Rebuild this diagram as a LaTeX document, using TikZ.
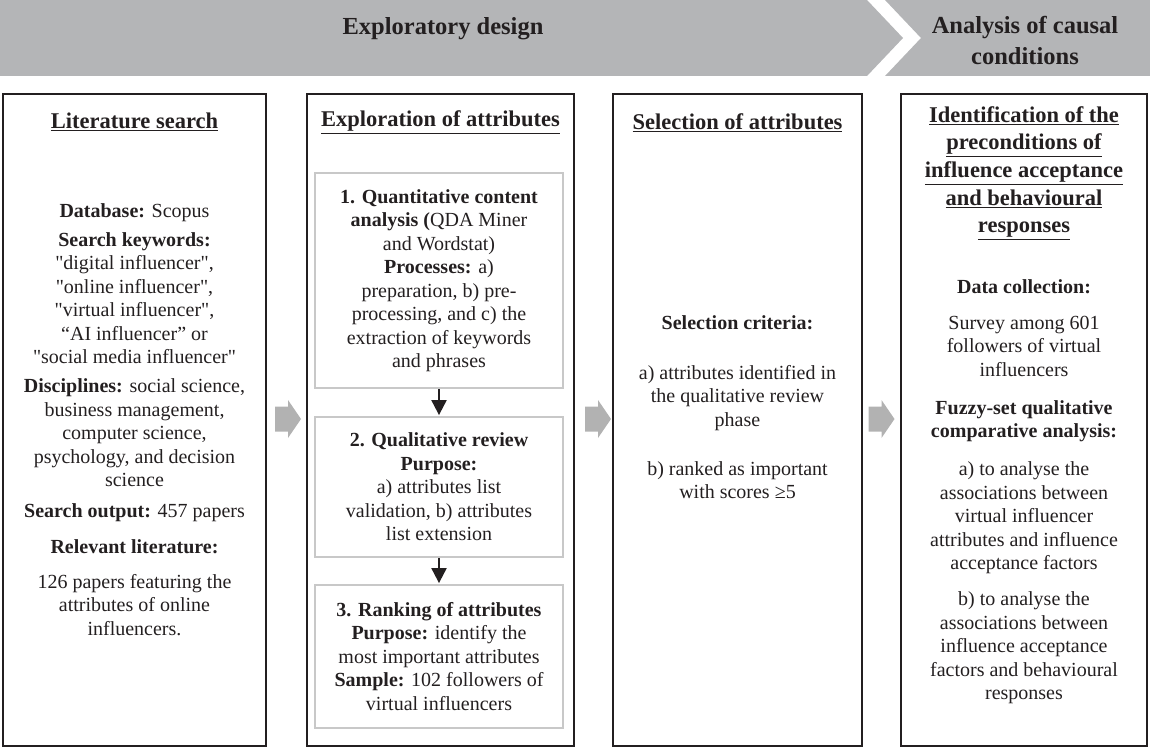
\documentclass[tikz,border=0pt]{standalone}
\usepackage{fontspec}
\setmainfont{Liberation Serif}[Ligatures=TeXOff]
\usetikzlibrary{arrows.meta,calc}
\definecolor{bannergray}{RGB}{180,181,183}
\definecolor{ink}{RGB}{35,31,32}
\definecolor{subgray}{RGB}{200,200,200}
\definecolor{arrowgray}{RGB}{178,178,178}
\begin{document}
\begin{tikzpicture}[x=1pt,y=-1pt,
  bigbox/.style={draw=ink, line width=1.6pt, rectangle, inner sep=0},
  subbox/.style={draw=subgray, line width=1.8pt, rectangle, inner sep=0, align=center, text=ink, font=\fontsize{20}{23.5}\selectfont},
  body/.style={align=center, text=ink, font=\fontsize{20}{23.5}\selectfont, inner sep=0},
  ttl/.style={align=center, text=ink, font=\fontsize{22.5}{27.7}\selectfont\bfseries, inner sep=0},
  bnr/.style={align=center, text=ink, font=\fontsize{24.5}{31}\selectfont\bfseries, inner sep=0},
  flow/.style={fill=arrowgray, draw=none},
  down/.style={-{Triangle[length=15pt,width=15pt]}, line width=2pt, draw=ink, shorten >=1pt}
]
\useasboundingbox (0,0) rectangle (1150,749);
% banner
\fill[bannergray] (0,0) -- (867,0) -- (903,38) -- (867,76) -- (0,76) -- cycle;
\fill[bannergray] (885,0) -- (1150,0) -- (1150,76) -- (885,76) -- (921,38) -- cycle;
\node[bnr] (h1) at (443,29) {Exploratory design};
\node[bnr] (h2) at (1025,40) {Analysis of causal\\conditions};

% big boxes
\node[bigbox, minimum width=263pt, minimum height=652pt] (b1) at (134.5,420) {};
\node[bigbox, minimum width=267pt, minimum height=652pt] (b2) at (440.5,420) {};
\node[bigbox, minimum width=249pt, minimum height=652pt] (b3) at (737.5,420) {};
\node[bigbox, minimum width=246pt, minimum height=652pt] (b4) at (1024,420) {};

% box 1
\node[ttl] (t1) at (134.5,122) {\underline{Literature search}};
\node[body] (db) at (134.5,213) {\textbf{Database:} Scopus};
\node[body] (kw) at (134.5,298) {\textbf{Search keywords:}\\"digital influencer",\\"online influencer",\\"virtual influencer",\\“AI influencer” or\\"social media influencer"};
\node[body] (dis) at (134.5,433) {\textbf{Disciplines:} social science,\\business management,\\computer science,\\psychology, and decision\\science};
\node[body] (so) at (134.5,513) {\textbf{Search output:} 457 papers};
\node[body] (rl) at (134.5,547) {\textbf{Relevant literature:}};
\node[body] (pp) at (134.5,605) {126 papers featuring the\\attributes of online\\influencers.};

% box 2
\node[ttl] (t2) at (440.5,122) {\underline{Exploration of attributes}};
\node[subbox, minimum width=248pt, minimum height=215pt] (s1) at (439,280.5) {\textbf{1. Quantitative content}\\\textbf{analysis (}QDA Miner\\and Wordstat)\\\textbf{Processes:} a)\\preparation, b) pre-\\processing, and c) the\\extraction of keywords\\and phrases};
\node[subbox, minimum width=248pt, minimum height=140pt] (s2) at (439,487) {\textbf{2. Qualitative review}\\\textbf{Purpose:}\\a) attributes list\\validation, b) attributes\\list extension};
\node[subbox, minimum width=248pt, minimum height=143pt] (s3) at (439,656.5) {\textbf{3. Ranking of attributes}\\\textbf{Purpose:} identify the\\most important attributes\\\textbf{Sample:} 102 followers of\\virtual influencers};
\draw[down] (s1.south) -- (s2.north);
\draw[down] (s2.south) -- (s3.north);

% box 3
\node[ttl] (t3) at (737.5,123) {\underline{Selection of attributes}};
\node[body] (sc) at (737.5,323) {\textbf{Selection criteria:}};
\node[body] (ca) at (737.5,398) {a) attributes identified in\\the qualitative review\\phase};
\node[body] (cb) at (737.5,480) {b) ranked as important\\with scores ≥5};

% box 4
\node[ttl] (t4) at (1024,173) {\underline{Identification of the}\\\underline{preconditions of}\\\underline{influence acceptance}\\\underline{and behavioural}\\\underline{responses}};
\node[body] (dc) at (1024,287) {\textbf{Data collection:}};
\node[body] (sv) at (1024,346) {Survey among 601\\followers of virtual\\influencers};
\node[body] (fz) at (1024,421) {\textbf{Fuzzy-set qualitative}\\\textbf{comparative analysis:}};
\node[body] (fa) at (1024,518) {a) to analyse the\\associations between\\virtual influencer\\attributes and influence\\acceptance factors};
\node[body] (fb) at (1024,648) {b) to analyse the\\associations between\\influence acceptance\\factors and behavioural\\responses};

% flow arrows between boxes
\coordinate (f1) at ($(b1.east)!0.5!(b2.west)+(1.5,-1)$);
\coordinate (f2) at ($(b2.east)!0.5!(b3.west)+(4.5,-1)$);
\coordinate (f3) at ($(b3.east)!0.5!(b4.west)+(0,-1)$);
\foreach \c in {f1,f2,f3}
  \fill[flow, shift={(\c)}] (-13,-12.5) -- (0,-12.5) -- (0,-19) -- (13,0) -- (0,19) -- (0,12.5) -- (-13,12.5) -- cycle;
\end{tikzpicture}
\end{document}
